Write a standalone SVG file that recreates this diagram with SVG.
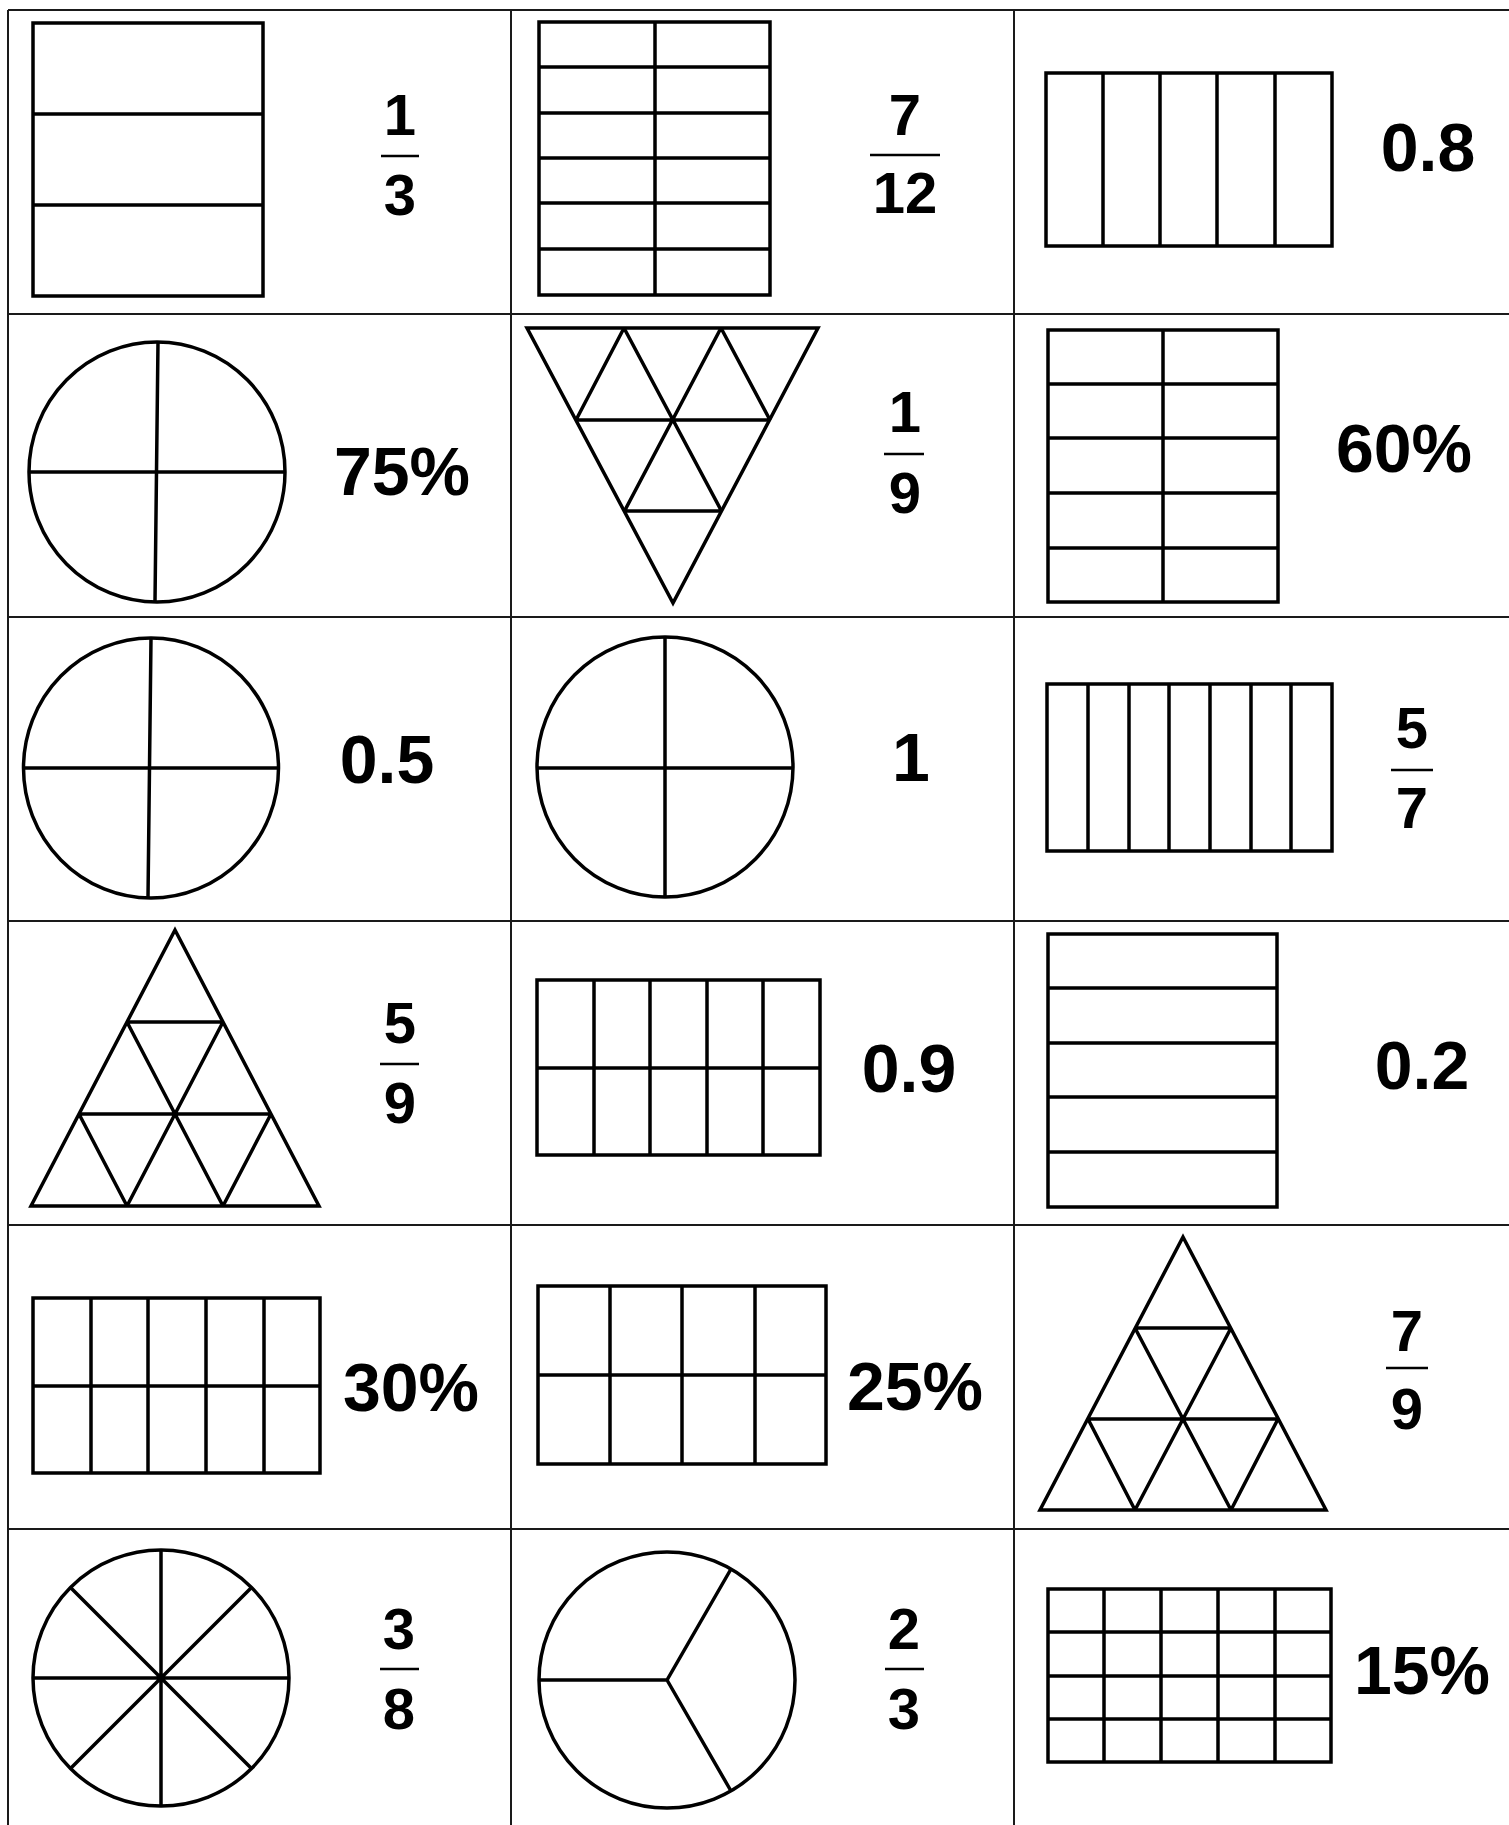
<svg xmlns="http://www.w3.org/2000/svg" width="1509" height="1825" viewBox="0 0 1509 1825">
<style>
.grid{stroke:#1a1a1a;stroke-width:2;fill:none}
.s{stroke:#000;stroke-width:3.5;fill:none;stroke-linejoin:miter}
.bar{stroke:#000;stroke-width:2.5}
.t{font-family:"Liberation Sans",Arial,sans-serif;font-weight:bold;fill:#000;text-anchor:middle}
.f{font-size:58px}
.b{font-size:68px}
</style>
<rect x="0" y="0" width="1509" height="1825" fill="#fff"/>
<g id="grid" class="grid">
<line x1="8" y1="10" x2="8" y2="1825"/>
<line x1="511" y1="10" x2="511" y2="1825"/>
<line x1="1014" y1="10" x2="1014" y2="1825"/>
<line x1="8" y1="10" x2="1509" y2="10"/>
<line x1="8" y1="314" x2="1509" y2="314"/>
<line x1="8" y1="617" x2="1509" y2="617"/>
<line x1="8" y1="921" x2="1509" y2="921"/>
<line x1="8" y1="1225" x2="1509" y2="1225"/>
<line x1="8" y1="1529" x2="1509" y2="1529"/>
</g>

<g id="cell-1-1">
<rect class="s" x="33" y="23" width="230" height="273"/>
<path class="s" d="M33 114H263M33 205H263"/>
<text class="t f" x="400" y="135">1</text>
<line class="bar" x1="381" y1="156" x2="419" y2="156"/>
<text class="t f" x="400" y="215">3</text>
</g>

<g id="cell-1-2">
<rect class="s" x="539" y="22" width="231" height="273"/>
<path class="s" d="M655 22V295M539 67H770M539 113H770M539 158H770M539 203H770M539 249H770"/>
<text class="t f" x="905" y="135">7</text>
<line class="bar" x1="870" y1="155" x2="940" y2="155"/>
<text class="t f" x="905" y="213">12</text>
</g>

<g id="cell-1-3">
<rect class="s" x="1046" y="73" width="286" height="173"/>
<path class="s" d="M1103 73V246M1160 73V246M1217 73V246M1275 73V246"/>
<text class="t b" x="1428" y="171">0.8</text>
</g>

<g id="cell-2-1">
<ellipse class="s" cx="157" cy="472" rx="128" ry="130"/>
<path class="s" d="M158 342L155 602M29 472H285"/>
<text class="t b" x="402" y="495">75%</text>
</g>

<g id="cell-2-2">
<polygon class="s" points="527,328 818,328 673,603"/>
<path class="s" d="M576 420H770M624.5 511H721.5M624 328L721.5 511M721 328L770 420M721 328L624.5 511M624 328L576 420"/>
<text class="t f" x="905" y="432">1</text>
<line class="bar" x1="884" y1="454" x2="924" y2="454"/>
<text class="t f" x="905" y="513">9</text>
</g>

<g id="cell-2-3">
<rect class="s" x="1048" y="330" width="230" height="272"/>
<path class="s" d="M1163 330V602M1048 384H1278M1048 438H1278M1048 493H1278M1048 548H1278"/>
<text class="t b" x="1404" y="472">60%</text>
</g>

<g id="cell-3-1">
<ellipse class="s" cx="151" cy="768" rx="127.5" ry="130"/>
<path class="s" d="M151 638L148 898M23.5 768H278.5"/>
<text class="t b" x="387" y="783">0.5</text>
</g>

<g id="cell-3-2">
<ellipse class="s" cx="665" cy="767" rx="128" ry="130"/>
<path class="s" d="M665 637V897M537 768H793"/>
<text class="t b" x="911" y="781">1</text>
</g>

<g id="cell-3-3">
<rect class="s" x="1047" y="684" width="285" height="167"/>
<path class="s" d="M1088 684V851M1129 684V851M1169 684V851M1210 684V851M1251 684V851M1291 684V851"/>
<text class="t f" x="1412" y="748">5</text>
<line class="bar" x1="1391" y1="770" x2="1433" y2="770"/>
<text class="t f" x="1412" y="828">7</text>
</g>

<g id="cell-4-1">
<polygon class="s" points="175,930 319,1206 31,1206"/>
<path class="s" d="M127 1022H223M79 1114H271M127 1022L223 1206M79 1114L127 1206M223 1022L127 1206M271 1114L223 1206"/>
<text class="t f" x="400" y="1043">5</text>
<line class="bar" x1="380" y1="1064" x2="419" y2="1064"/>
<text class="t f" x="400" y="1123">9</text>
</g>

<g id="cell-4-2">
<rect class="s" x="537" y="980" width="283" height="175"/>
<path class="s" d="M594 980V1155M650 980V1155M707 980V1155M763 980V1155M537 1068H820"/>
<text class="t b" x="909" y="1092">0.9</text>
</g>

<g id="cell-4-3">
<rect class="s" x="1048" y="934" width="229" height="273"/>
<path class="s" d="M1048 988H1277M1048 1043H1277M1048 1097H1277M1048 1152H1277"/>
<text class="t b" x="1422" y="1089">0.2</text>
</g>

<g id="cell-5-1">
<rect class="s" x="33" y="1298" width="287" height="175"/>
<path class="s" d="M91 1298V1473M148 1298V1473M206 1298V1473M264 1298V1473M33 1386H320"/>
<text class="t b" x="411" y="1411">30%</text>
</g>

<g id="cell-5-2">
<rect class="s" x="538" y="1286" width="288" height="178"/>
<path class="s" d="M610 1286V1464M682 1286V1464M755 1286V1464M538 1375H826"/>
<text class="t b" x="915" y="1410">25%</text>
</g>

<g id="cell-5-3">
<polygon class="s" points="1183,1237 1326,1510 1040,1510"/>
<path class="s" d="M1135 1328H1231M1088 1419H1278M1135 1328L1231 1510M1088 1419L1135 1510M1231 1328L1135 1510M1278 1419L1231 1510"/>
<text class="t f" x="1407" y="1351">7</text>
<line class="bar" x1="1386" y1="1368" x2="1428" y2="1368"/>
<text class="t f" x="1407" y="1429">9</text>
</g>

<g id="cell-6-1">
<circle class="s" cx="161" cy="1678" r="128"/>
<path class="s" d="M33 1678H289M161 1550V1806M70.5 1587.5L251.5 1768.5M251.5 1587.5L70.5 1768.5"/>
<text class="t f" x="399" y="1649">3</text>
<line class="bar" x1="380" y1="1669" x2="419" y2="1669"/>
<text class="t f" x="399" y="1729">8</text>
</g>

<g id="cell-6-2">
<circle class="s" cx="667" cy="1680" r="128"/>
<path class="s" d="M539 1680H667L731 1569M667 1680L731 1791"/>
<text class="t f" x="904" y="1649">2</text>
<line class="bar" x1="885" y1="1669" x2="924" y2="1669"/>
<text class="t f" x="904" y="1729">3</text>
</g>

<g id="cell-6-3">
<rect class="s" x="1048" y="1589" width="283" height="173"/>
<path class="s" d="M1104 1589V1762M1161 1589V1762M1218 1589V1762M1275 1589V1762M1048 1632H1331M1048 1676H1331M1048 1719H1331"/>
<text class="t b" x="1422" y="1694">15%</text>
</g>
</svg>
